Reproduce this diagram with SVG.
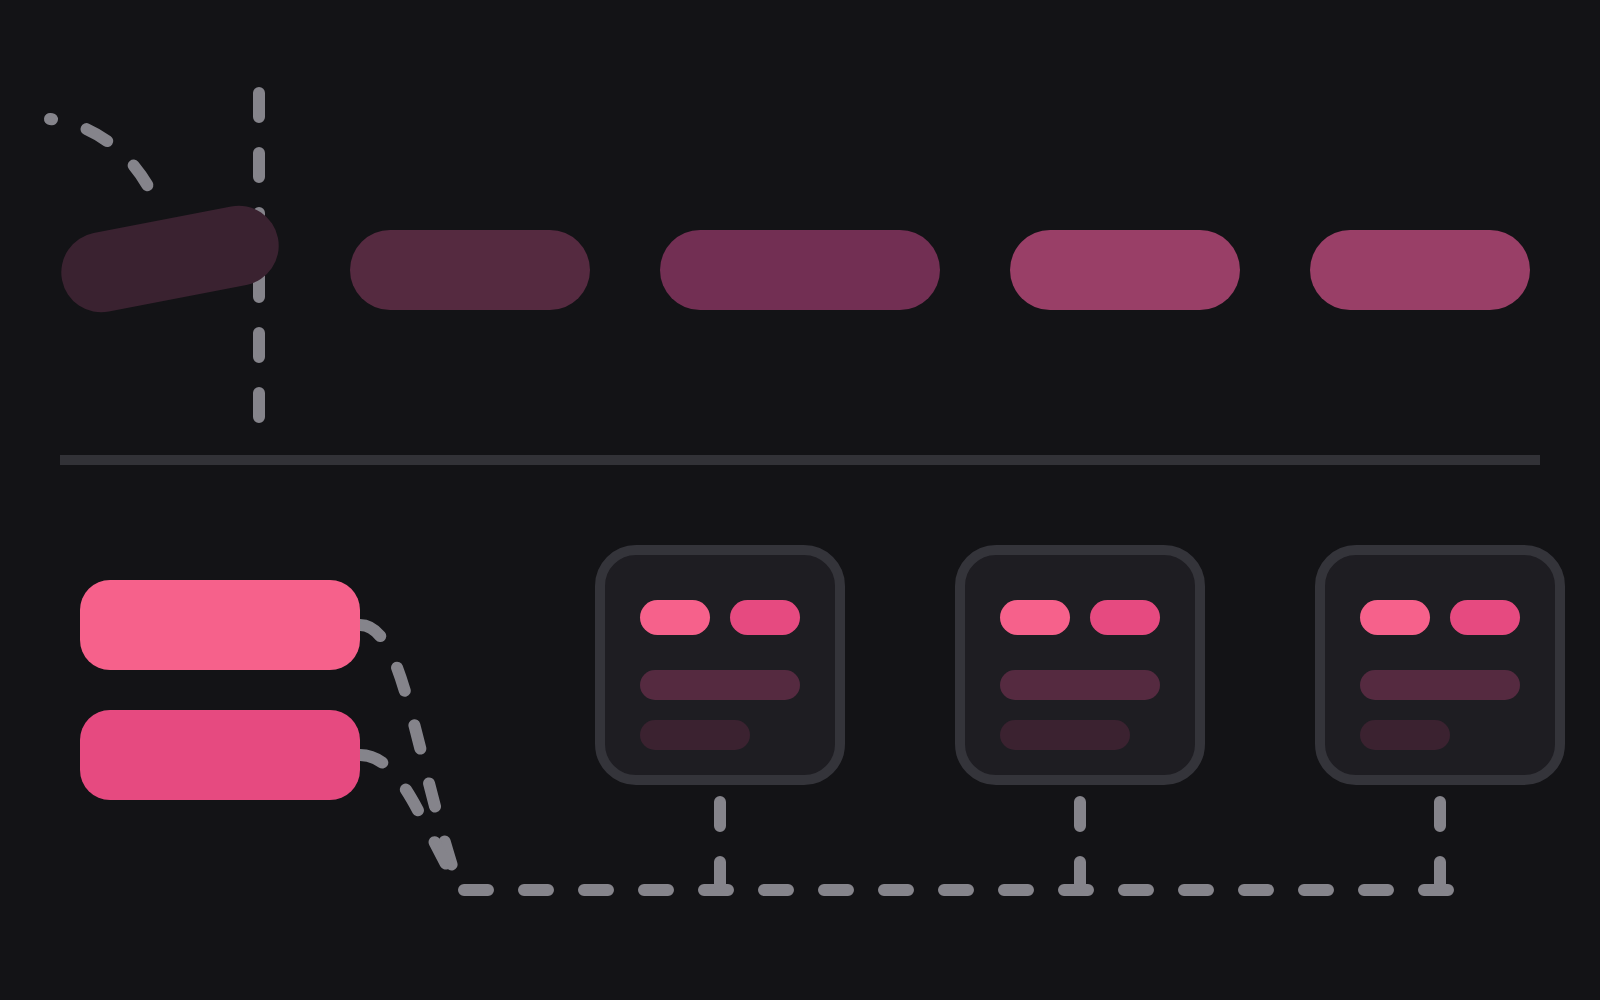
<svg xmlns="http://www.w3.org/2000/svg" width="1600" height="1000" viewBox="0 0 1600 1000">
  <style>
    .conn { fill: none; stroke: #85848b; stroke-width: 12; stroke-linecap: round; stroke-dasharray: 24 36; }
    .card { fill: #1e1d22; stroke: #34343a; stroke-width: 10; }
    .pa { fill: #f6618b; }
    .pb { fill: #e64a80; }
    .bar1 { fill: #552a40; }
    .bar2 { fill: #3b2230; }
  </style>
  <rect x="0" y="0" width="1600" height="1000" fill="#131316"/>

  <g id="connectors">
    <path class="conn" d="M259,93 V417"/>
    <path class="conn" d="M50,119 C95,124 135,155 155,200" stroke-dashoffset="22"/>
    <path class="conn" d="M360,625 C405,625 415,760 460,890"/>
    <path class="conn" d="M360,755 C400,755 420,820 460,890"/>
    <path class="conn" d="M464,890 H1449"/>
    <path class="conn" d="M720,802 V890"/>
    <path class="conn" d="M1080,802 V890"/>
    <path class="conn" d="M1440,802 V890"/>
  </g>

  <g id="separator">
    <rect x="60" y="455" width="1480" height="10" fill="#323237"/>
  </g>

  <g id="pill-tilted">
    <rect x="-110" y="-40" width="220" height="80" rx="40" fill="#3a2230" transform="translate(170,259) rotate(-11)"/>
  </g>
  <g id="pill-2"><rect x="350" y="230" width="240" height="80" rx="40" fill="#552a40"/></g>
  <g id="pill-3"><rect x="660" y="230" width="280" height="80" rx="40" fill="#722f53"/></g>
  <g id="pill-4"><rect x="1010" y="230" width="230" height="80" rx="40" fill="#993f67"/></g>
  <g id="pill-5"><rect x="1310" y="230" width="220" height="80" rx="40" fill="#993f67"/></g>

  <g id="box-1"><rect x="80" y="580" width="280" height="90" rx="30" fill="#f6618b"/></g>
  <g id="box-2"><rect x="80" y="710" width="280" height="90" rx="30" fill="#e64a80"/></g>

  <g id="card-1">
    <rect class="card" x="600" y="550" width="240" height="230" rx="36"/>
    <rect class="pa" x="640" y="600" width="70" height="35" rx="17.5"/>
    <rect class="pb" x="730" y="600" width="70" height="35" rx="17.5"/>
    <rect class="bar1" x="640" y="670" width="160" height="30" rx="15"/>
    <rect class="bar2" x="640" y="720" width="110" height="30" rx="15"/>
  </g>
  <g id="card-2">
    <rect class="card" x="960" y="550" width="240" height="230" rx="36"/>
    <rect class="pa" x="1000" y="600" width="70" height="35" rx="17.5"/>
    <rect class="pb" x="1090" y="600" width="70" height="35" rx="17.5"/>
    <rect class="bar1" x="1000" y="670" width="160" height="30" rx="15"/>
    <rect class="bar2" x="1000" y="720" width="130" height="30" rx="15"/>
  </g>
  <g id="card-3">
    <rect class="card" x="1320" y="550" width="240" height="230" rx="36"/>
    <rect class="pa" x="1360" y="600" width="70" height="35" rx="17.5"/>
    <rect class="pb" x="1450" y="600" width="70" height="35" rx="17.5"/>
    <rect class="bar1" x="1360" y="670" width="160" height="30" rx="15"/>
    <rect class="bar2" x="1360" y="720" width="90" height="30" rx="15"/>
  </g>
</svg>
